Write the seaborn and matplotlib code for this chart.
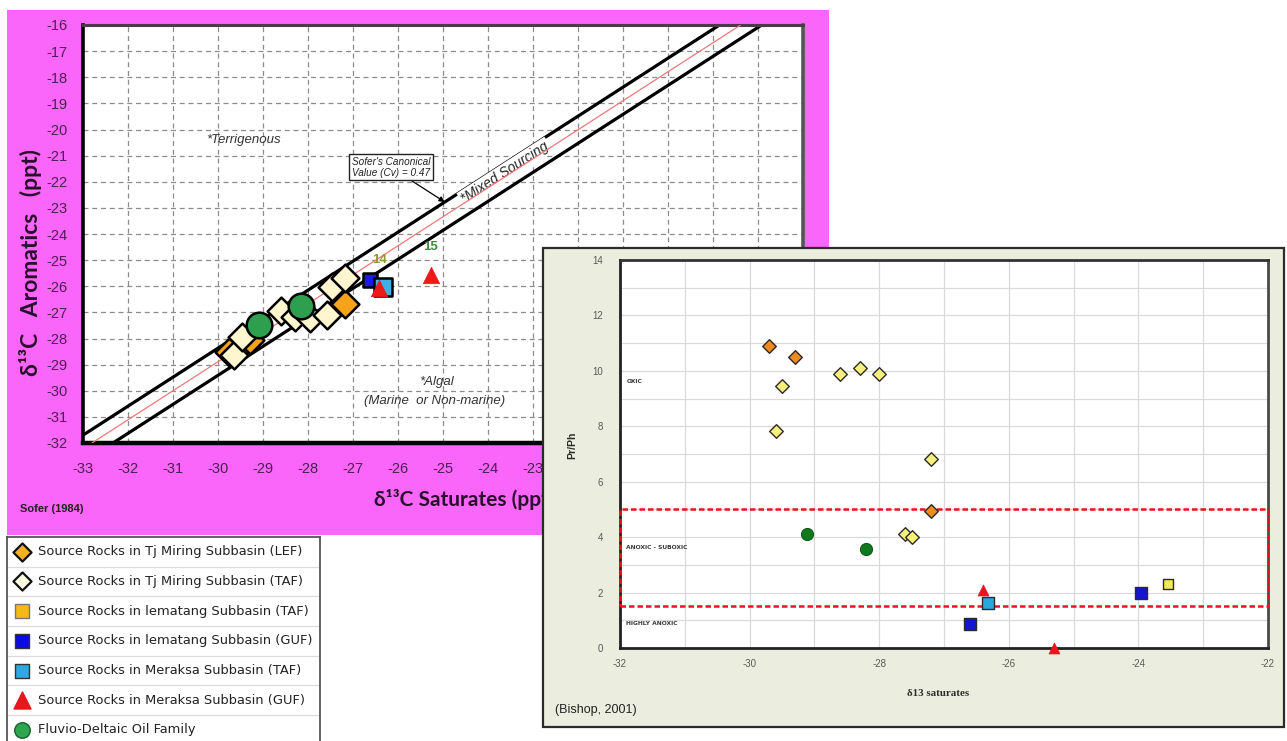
import numpy as np
import matplotlib
matplotlib.use("Agg")
import matplotlib.pyplot as plt
from matplotlib.patches import Rectangle
from matplotlib import font_manager
import seaborn as sns

sns.set_theme(style="white")
plt.rcParams['font.family'] = ['Liberation Sans', 'DejaVu Sans']
plt.rcParams['axes.unicode_minus'] = False


def pick_font(*names):
    avail = {f.name for f in font_manager.fontManager.ttflist}
    for n in names:
        if n in avail:
            return n
    return 'DejaVu Sans'


NARROW = pick_font('Liberation Sans Narrow', 'Liberation Sans')
TITLE = pick_font('Lato', 'Liberation Sans')

# ---------------- Sofer (1984): d13C saturates vs d13C aromatics ----------------
sofer_lef_sat = [-29.76, -29.29, -27.18]
sofer_lef_aro = [-28.52, -28.04, -26.68]
sofer_taf_sat = [-29.64, -29.47, -28.60, -28.29, -27.96, -27.58, -27.47, -27.18]
sofer_taf_aro = [-28.62, -27.95, -26.94, -27.16, -27.23, -27.10, -26.02, -25.70]
sofer_lguf_sat = [-26.62]
sofer_lguf_aro = [-25.76]
sofer_mtaf_sat = [-26.33]
sofer_mtaf_aro = [-26.02]
sofer_mguf_sat = [-26.42, -25.27]
sofer_mguf_aro = [-26.05, -25.57]
sofer_mguf_ids = ["14", "15"]
sofer_oil_sat = [-29.10, -28.15]
sofer_oil_aro = [-27.47, -26.77]

# canonical-variable boundary (Cv = 0.47) and the mixed-sourcing band
cv_slope = 1.11
cv_intercept = 4.41
band_half_width = 0.52

# ---------------- Bishop (2001): d13C saturates vs Pr/Ph ----------------
bishop_lef_sat = [-29.7, -29.3, -27.2]
bishop_lef_prph = [10.9, 10.5, 4.95]
bishop_taf_sat = [-29.6, -29.5, -28.6, -28.3, -28.0, -27.6, -27.5, -27.2]
bishop_taf_prph = [7.83, 9.47, 9.88, 10.12, 9.88, 4.11, 4.02, 6.82]
bishop_ltaf_sat = [-23.54]
bishop_ltaf_prph = [2.30]
bishop_lguf_sat = [-26.6, -23.96]
bishop_lguf_prph = [0.87, 2.0]
bishop_mtaf_sat = [-26.32]
bishop_mtaf_prph = [1.64]
bishop_mguf_sat = [-26.4, -25.3]
bishop_mguf_prph = [2.1, 0.0]
bishop_oil_sat = [-29.12, -28.2]
bishop_oil_prph = [4.10, 3.57]
suboxic_band = (1.5, 5.0)
zone_labels = ["OXIC", "ANOXIC - SUBOXIC", "HIGHLY ANOXIC"]
zone_label_y = [9.6, 3.62, 0.87]

# ---------------- legend entries ----------------
legend_labels = [
    "Source Rocks in Tj Miring Subbasin (LEF)",
    "Source Rocks in Tj Miring Subbasin (TAF)",
    "Source Rocks in lematang Subbasin (TAF)",
    "Source Rocks in lematang Subbasin (GUF)",
    "Source Rocks in Meraksa Subbasin (TAF)",
    "Source Rocks in Meraksa Subbasin (GUF)",
    "Fluvio-Deltaic Oil Family",
]
legend_markers = ['D', 'D', 's', 's', 's', '^', 'o']
legend_fills = ['#F2B11E', '#FFFBE2', '#F5B917', '#0B0BE4', '#2FA7E2', '#E3191C', '#2DA64F']
legend_edges = ['#111111', '#111111', '#777777', '#333333', '#333333', '#E3191C', '#1d5f2e']
legend_sizes = [85, 85, 110, 110, 110, 150, 125]

W, H, DPI = 1287, 741, 100
PINK = '#F966F9'
BEIGE = '#EBEDDE'
TICK_PURPLE = '#4B2050'

fig = plt.figure(figsize=(W / DPI, H / DPI), dpi=DPI, facecolor='white')


def px_axes(x0, y0, x1, y1, **kw):
    return fig.add_axes([x0 / W, 1 - y1 / H, (x1 - x0) / W, (y1 - y0) / H], **kw)


# pink panel behind the Sofer plot
fig.add_artist(Rectangle((7 / W, 1 - 535 / H), 822 / W, 525 / H,
                         transform=fig.transFigure, facecolor=PINK,
                         edgecolor='none', zorder=-5))

# ================= Sofer plot =================
ax = px_axes(83, 25, 803, 443)
ax.set_zorder(1)
ax.set_facecolor('white')
ax.set_xlim(-33, -17)
ax.set_ylim(-32, -16)
ax.set_xticks(range(-33, -16))
ax.set_yticks(range(-32, -15))
ax.grid(True, color='#8c8c8c', linestyle=(0, (4, 3)), linewidth=0.9)
ax.tick_params(axis='both', length=0, labelsize=10.5, labelcolor=TICK_PURPLE)
ax.tick_params(axis='x', pad=14)
ax.tick_params(axis='y', pad=11)
for lab in ax.get_xticklabels() + ax.get_yticklabels():
    lab.set_family(NARROW)
ax.spines['left'].set(color='black', linewidth=2.6)
ax.spines['bottom'].set(color='black', linewidth=3.2)
ax.spines['top'].set(color='#4a3a4a', linewidth=2.2)
ax.spines['right'].set(color='#555555', linewidth=2.6)
ax.set_xlabel('')
ax.set_ylabel('')

# boundary lines
ax.axline((0, cv_intercept + band_half_width), slope=cv_slope, color='black', lw=2.3, zorder=2)
ax.axline((0, cv_intercept - band_half_width), slope=cv_slope, color='black', lw=2.3, zorder=2)
ax.axline((0, cv_intercept), slope=cv_slope, color='#F07878', lw=0.9, zorder=4)

line_angle = np.degrees(np.arctan(cv_slope))
mix_x = -23.62
ax.text(mix_x, cv_slope * mix_x + cv_intercept + 0.17, '*Mixed Sourcing',
        rotation=line_angle, transform_rotates_text=True, rotation_mode='anchor',
        ha='center', va='center', fontsize=10, style='italic', color='#222222',
        bbox=dict(facecolor='white', edgecolor='none', pad=1.2), zorder=3)

tip_x = -24.96
ax.annotate("Sofer's Canonical\nValue (Cv) = 0.47",
            xy=(tip_x, cv_slope * tip_x + cv_intercept + band_half_width),
            xytext=(-26.16, -21.45), ha='center', va='center', fontsize=7.2,
            style='italic', family=NARROW, color='#222222', linespacing=1.15,
            bbox=dict(boxstyle='square,pad=0.25', fc='white', ec='#222222', lw=1),
            arrowprops=dict(arrowstyle='-|>', color='black', lw=0.9,
                            mutation_scale=8, shrinkA=0, shrinkB=0),
            zorder=6)

ax.text(-29.44, -20.4, '*Terrigenous', fontsize=9.5, style='italic',
        color='#333333', ha='center', va='center', family=NARROW)
ax.text(-25.14, -29.65, '*Algal', fontsize=9.5, style='italic',
        color='#333333', ha='center', va='center', family=NARROW)
ax.text(-25.18, -30.38, '(Marine  or Non-marine)', fontsize=9.5, style='italic',
        color='#333333', ha='center', va='center', family=NARROW)

edge = dict(edgecolor='black', linewidth=1.8)
sns.scatterplot(x=sofer_lef_sat, y=sofer_lef_aro, marker='D', s=200,
                color='#F7A21B', ax=ax, zorder=6, **edge)
sns.scatterplot(x=sofer_taf_sat, y=sofer_taf_aro, marker='D', s=200,
                color='#FFF5CF', ax=ax, zorder=7, **edge)
sns.scatterplot(x=sofer_oil_sat, y=sofer_oil_aro, marker='o', s=340,
                color='#2E9E4F', ax=ax, zorder=8, **edge)
sns.scatterplot(x=sofer_lguf_sat, y=sofer_lguf_aro, marker='s', s=115,
                color='#1A1AE6', ax=ax, zorder=8, **edge)
sns.scatterplot(x=sofer_mtaf_sat, y=sofer_mtaf_aro, marker='s', s=170,
                color='#3DB1E6', ax=ax, zorder=9, **edge)
sns.scatterplot(x=sofer_mguf_sat, y=sofer_mguf_aro, marker='^', s=140,
                color='#EE1818', ax=ax, zorder=10, edgecolor='#EE1818', linewidth=0.5)
id_colors = ['#8E9B2E', '#3E8A3E']
for sx, sy, sid, c in zip(sofer_mguf_sat, sofer_mguf_aro, sofer_mguf_ids, id_colors):
    ax.text(sx, sy + 1.06, sid, color=c, fontsize=9.5, fontweight='bold',
            ha='center', va='center', family=NARROW, zorder=11)

# axis titles of the Sofer plot
fig.text(30 / W, 1 - 262 / H, 'δ¹³C   Aromatics   (ppt)', rotation=90,
         ha='center', va='center', fontsize=16.5, fontweight='bold',
         color='#2a102c', family=TITLE)
fig.text(374 / W, 1 - 500 / H, 'δ¹³C Saturates (ppt)', ha='left', va='center',
         fontsize=15, fontweight='bold', color='#2a102c', family=TITLE)
fig.text(20 / W, 1 - 509 / H, 'Sofer (1984)', ha='left', va='center',
         fontsize=8, fontweight='bold', color='#222222', family=NARROW)

# ================= legend =================
axl = px_axes(7, 537, 320, 760)
axl.set_zorder(2)
axl.set_facecolor('white')
row_pitch = 29.7
axl.set_xlim(0, 313)
axl.set_ylim((760 - 551.7) / row_pitch, -(551.7 - 537) / row_pitch)
axl.set_xticks([])
axl.set_yticks([])
for side in ['left', 'top', 'right']:
    axl.spines[side].set(color='#555555', linewidth=1.3, visible=True)
axl.spines['bottom'].set_visible(False)
for i in range(len(legend_labels) - 1):
    axl.axhline(i + 0.5, color='#dcdcdc', lw=0.9)
for i, (lab, mk, fc, ec, sz) in enumerate(zip(legend_labels, legend_markers,
                                               legend_fills, legend_edges, legend_sizes)):
    axl.scatter([15], [i], marker=mk, s=sz, facecolor=fc, edgecolor=ec,
                linewidth=1.6 if mk == 'D' else 1.0, zorder=3, clip_on=False)
    axl.text(31, i, lab, ha='left', va='center', fontsize=9.4,
             color='#222222', family='DejaVu Sans')

# ================= Bishop plot =================
fig.add_artist(Rectangle((543 / W, 1 - 727 / H), 741 / W, 479 / H,
                         transform=fig.transFigure, facecolor=BEIGE,
                         edgecolor='#2b2b2b', linewidth=1.6, zorder=5))

ax2 = px_axes(620, 260, 1268, 648)
ax2.set_zorder(6)
ax2.set_facecolor('white')
ax2.set_xlim(-32, -22)
ax2.set_ylim(0, 14)
ax2.set_xticks(range(-32, -21, 2))
ax2.set_yticks(range(0, 15, 2))
ax2.set_xticks(range(-31, -22, 2), minor=True)
ax2.set_yticks(range(1, 14, 2), minor=True)
ax2.grid(True, which='both', color='#dadada', linewidth=0.9)
ax2.tick_params(axis='both', which='both', length=0, labelsize=7, labelcolor='#5a5a5a')
ax2.tick_params(axis='x', pad=8)
ax2.tick_params(axis='y', pad=12)
ax2.spines['left'].set(color='#222222', linewidth=2)
ax2.spines['bottom'].set(color='#222222', linewidth=2)
ax2.spines['top'].set(color='#333333', linewidth=2)
ax2.spines['right'].set(color='#4a4a4a', linewidth=2)
ax2.set_xlabel('')
ax2.set_ylabel('')

ax2.add_patch(Rectangle((-32, suboxic_band[0]), 10, suboxic_band[1] - suboxic_band[0],
                        fill=False, edgecolor='#E8141E', linewidth=1.8,
                        linestyle=(0, (2.2, 1.2)), clip_on=False, zorder=5))
for lab, ly in zip(zone_labels, zone_label_y):
    ax2.text(-31.9, ly, lab, fontsize=4.3, fontweight='bold', color='#3a3a3a',
             ha='left', va='center', family='DejaVu Sans')

e2 = dict(edgecolor='#2a2a2a', linewidth=1.0, clip_on=False)
sns.scatterplot(x=bishop_lef_sat, y=bishop_lef_prph, marker='D', s=48,
                color='#EE8A1E', ax=ax2, zorder=6, **e2)
sns.scatterplot(x=bishop_taf_sat, y=bishop_taf_prph, marker='D', s=48,
                color='#F6F07A', ax=ax2, zorder=6, **e2)
sns.scatterplot(x=bishop_oil_sat, y=bishop_oil_prph, marker='o', s=75,
                color='#0E7A1E', ax=ax2, zorder=6, edgecolor='#0b5a16',
                linewidth=0.8, clip_on=False)
sns.scatterplot(x=bishop_lguf_sat, y=bishop_lguf_prph, marker='s', s=75,
                color='#1414D2', ax=ax2, zorder=6, **e2)
sns.scatterplot(x=bishop_ltaf_sat, y=bishop_ltaf_prph, marker='s', s=62,
                color='#F2EC50', ax=ax2, zorder=6, **e2)
sns.scatterplot(x=bishop_mguf_sat, y=bishop_mguf_prph, marker='^', s=62,
                color='#E8141E', ax=ax2, zorder=6, edgecolor='#E8141E',
                linewidth=0.5, clip_on=False)
sns.scatterplot(x=bishop_mtaf_sat, y=bishop_mtaf_prph, marker='s', s=75,
                color='#2AA8DC', ax=ax2, zorder=7, **e2)

fig.text(572 / W, 1 - 445 / H, 'Pr/Ph', rotation=90, ha='center', va='center',
         fontsize=7.5, fontweight='bold', color='#2a2a2a', zorder=7)
fig.text(907 / W, 1 - 693 / H, 'δ13 saturates', ha='left', va='center',
         fontsize=7.8, fontweight='bold', color='#2a2a2a',
         family=['Liberation Serif', 'DejaVu Serif'], zorder=7)
fig.text(555 / W, 1 - 710 / H, '(Bishop, 2001)', ha='left', va='center',
         fontsize=9, color='#222222', zorder=7)

fig.savefig('out.png', dpi=DPI, facecolor='white')
